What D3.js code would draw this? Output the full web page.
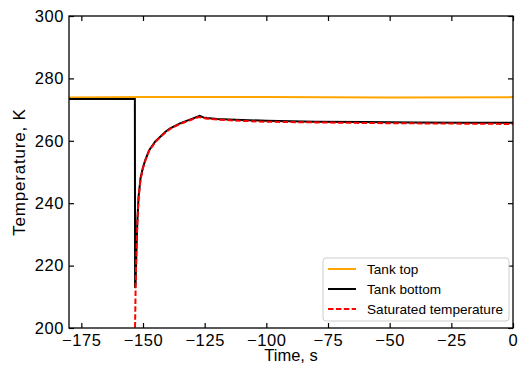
<!DOCTYPE html>
<html>
<head>
<meta charset="utf-8">
<script src="https://cdn.jsdelivr.net/npm/d3@7"></script>
<style>
  body { margin: 0; background: #fff; }
  svg { display: block; font-family: "Liberation Sans", Arial, sans-serif; }
</style>
</head>
<body>
<svg id="chart" width="518" height="369"></svg>
<script>
// data (time in s, temperature in K)
const topTime = [-180, -150, -100, -50, 0];
const topTemp = [273.9, 274.0, 274.0, 273.9, 274.0];

const bottomTime = [-180, -153.3, -153.2, -153.0, -152.7, -152.3, -151.8, -151.0, -150.0, -149.0, -147.5, -145.0, -143.0, -141.0, -139.0, -135.0, -131.0, -127.0, -125.5, -124.0, -120.0, -110.0, -100.0, -80.0, -60.0, -40.0, -20.0, 0];
const bottomTemp = [273.4, 273.4, 212.8, 214.5, 224.0, 234.0, 242.0, 248.0, 251.5, 254.0, 257.0, 259.8, 261.3, 262.8, 264.0, 265.6, 266.8, 268.0, 267.5, 267.3, 267.0, 266.7, 266.4, 266.1, 266.0, 265.9, 265.8, 265.8];

const satTime = [-153.5, -153.2, -153.0, -152.7, -152.3, -151.8, -151.0, -150.0, -149.0, -147.5, -145.0, -143.0, -141.0, -139.0, -135.0, -131.0, -127.5, -126.0, -124.0, -120.0, -110.0, -100.0, -80.0, -60.0, -40.0, -20.0, 0];
const satTemp = [190.0, 201.5, 212.7, 223.5, 233.5, 241.5, 247.6, 251.2, 253.8, 256.8, 259.6, 261.2, 262.6, 263.8, 265.4, 266.6, 267.6, 267.4, 267.1, 266.8, 266.4, 266.1, 265.9, 265.7, 265.6, 265.5, 265.4];

const xTicks = [-175, -150, -125, -100, -75, -50, -25, 0];
const yTicks = [200, 220, 240, 260, 280, 300];

const legendNames = ["Tank top", "Tank bottom", "Saturated temperature"];

const svg = d3.select("#chart");
const mLeft = 69, mRight = 513, mTop = 16, mBottom = 328;

const x = d3.scaleLinear().domain([-180, 0]).range([mLeft, mRight]);
const y = d3.scaleLinear().domain([200, 300]).range([mBottom, mTop]);

svg.append("clipPath").attr("id", "plotclip")
  .append("rect").attr("x", mLeft).attr("y", mTop)
  .attr("width", mRight - mLeft).attr("height", mBottom - mTop);

const line = d3.line().x(d => x(d[0])).y(d => y(d[1]));
const zip = (a, b) => a.map((v, i) => [v, b[i]]);

const series = [
  { pts: zip(topTime, topTemp), color: "#ffa500", dash: null },
  { pts: zip(bottomTime, bottomTemp), color: "#000000", dash: null },
  { pts: zip(satTime, satTemp), color: "#ff0000", dash: "5.5,2.4" }
];

const plot = svg.append("g").attr("clip-path", "url(#plotclip)");
series.forEach(s => {
  plot.append("path")
    .attr("d", line(s.pts))
    .attr("fill", "none")
    .attr("stroke", s.color)
    .attr("stroke-width", 2)
    .attr("stroke-dasharray", s.dash);
});

// axes, ticks inward on all sides
const fmt = d => d < 0 ? "\u2212" + Math.abs(d) : String(d);
const styleAxis = g => {
  g.select(".domain").remove();
  g.selectAll("line").attr("stroke", "#000").attr("stroke-width", 1.2);
  g.selectAll("text").attr("fill", "#000").attr("font-size", 16.5).attr("letter-spacing", 0.6);
};

svg.append("g").attr("transform", `translate(0,${mBottom})`)
  .call(d3.axisBottom(x).tickValues(xTicks).tickFormat(fmt).tickSizeInner(-5).tickSizeOuter(0).tickPadding(6))
  .call(styleAxis);
svg.append("g").attr("transform", `translate(0,${mTop})`)
  .call(d3.axisTop(x).tickValues(xTicks).tickFormat("").tickSizeInner(-5).tickSizeOuter(0))
  .call(styleAxis);
svg.append("g").attr("transform", `translate(${mLeft},0)`)
  .call(d3.axisLeft(y).tickValues(yTicks).tickFormat(fmt).tickSizeInner(-5).tickSizeOuter(0).tickPadding(5))
  .call(styleAxis);
svg.append("g").attr("transform", `translate(${mRight},0)`)
  .call(d3.axisRight(y).tickValues(yTicks).tickFormat("").tickSizeInner(-5).tickSizeOuter(0))
  .call(styleAxis);

svg.append("rect")
  .attr("x", mLeft).attr("y", mTop)
  .attr("width", mRight - mLeft).attr("height", mBottom - mTop)
  .attr("fill", "none").attr("stroke", "#000").attr("stroke-width", 1.3);

// axis labels
svg.append("text")
  .attr("x", (mLeft + mRight) / 2).attr("y", 361)
  .attr("text-anchor", "middle").attr("font-size", 16.5).attr("fill", "#000")
  .text("Time, s");
svg.append("text")
  .attr("transform", `translate(25,${(mTop + mBottom) / 2}) rotate(-90)`)
  .attr("text-anchor", "middle").attr("font-size", 17).attr("letter-spacing", 0.8).attr("fill", "#000")
  .text("Temperature, K");

// legend
const lg = svg.append("g").attr("transform", "translate(323,258)");
lg.append("rect")
  .attr("width", 186).attr("height", 63).attr("rx", 3)
  .attr("fill", "#fff").attr("fill-opacity", 0.8)
  .attr("stroke", "#cccccc").attr("stroke-width", 1);
legendNames.forEach((name, i) => {
  const ry = 11 + i * 20;
  lg.append("line")
    .attr("x1", 5).attr("x2", 33).attr("y1", ry).attr("y2", ry)
    .attr("stroke", series[i].color).attr("stroke-width", 2)
    .attr("stroke-dasharray", series[i].dash);
  lg.append("text")
    .attr("x", 44).attr("y", ry + 5)
    .attr("font-size", 13.6).attr("fill", "#000")
    .text(name);
});
</script>
</body>
</html>
